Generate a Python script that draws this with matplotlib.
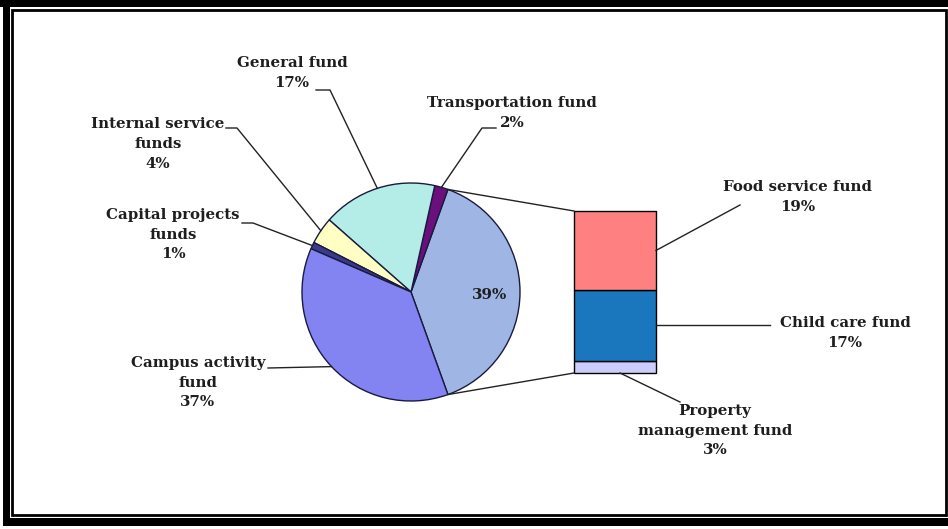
import numpy as np
import matplotlib.pyplot as plt
from matplotlib.patches import Rectangle

W, H = 948, 529

# pie part (first slice is the "other" slice broken out in the bar)
pie_labels = ["", "Transportation fund", "General fund", "Internal service\nfunds",
              "Capital projects\nfunds", "Campus activity\nfund"]
pie_values = [39, 2, 17, 4, 1, 37]
pie_colors = ["#9fb5e3", "#6b0f7d", "#b4ece8", "#ffffc4", "#3a3a8c", "#8383f2"]

# bar part, bottom to top
bar_labels = ["Property\nmanagement fund", "Child care fund", "Food service fund"]
bar_values = [3, 17, 19]
bar_colors = ["#ccccff", "#1a76bd", "#ff8080"]

plt.rcParams['font.family'] = ['DejaVu Serif']

fig = plt.figure(figsize=(W / 100, H / 100), dpi=100)
ax = fig.add_axes([0, 0, 1, 1])


def py(y):
    # pixel row (from top) -> data y
    return H - y


# frame
ax.add_patch(Rectangle((0, py(7)), W, 7, color='black', lw=0))
ax.add_patch(Rectangle((3, py(526)), 7, 526, color='black', lw=0))
ax.add_patch(Rectangle((3, py(526)), W - 3, 8, color='black', lw=0))
ax.add_patch(Rectangle((12.5, py(515)), W - 14, 505, fill=False, ec='black', lw=2))

# pie
cx, cy, r = 411, py(292), 109
total = sum(pie_values)
start = -pie_values[0] / total * 360 / 2
wedges, _ = ax.pie(pie_values, colors=pie_colors, startangle=start, counterclock=True,
                   radius=r, center=(cx, cy), frame=True,
                   wedgeprops=dict(edgecolor='#1a1a40', linewidth=1))
ax.set_xlim(0, W)
ax.set_ylim(0, H)
ax.set_aspect('equal')
ax.axis('off')


def edge(theta):
    t = np.radians(theta)
    return cx + r * np.cos(t), cy + r * np.sin(t)


font = dict(fontsize=10.8, fontweight='bold', color='#1e1e1e', ha='center', va='center',
            linespacing=1.5)

# bar of the "other" slice
bx, bw = 615, 82
scale = 162 / sum(bar_values)
bottom = py(373)
bottoms = []
for v, c in zip(bar_values, bar_colors):
    ax.bar(bx, v * scale, width=bw, bottom=bottom, color=c, edgecolor='black', linewidth=1)
    bottoms.append(bottom)
    bottom += v * scale

# connectors pie -> bar
top_pt = edge(wedges[0].theta2)
bot_pt = edge(wedges[0].theta1)
ax.plot([top_pt[0], bx - bw / 2], [top_pt[1], bottom], color='#222222', lw=1)
ax.plot([bot_pt[0], bx - bw / 2], [bot_pt[1], py(373)], color='#222222', lw=1)

ax.text(490, py(295), f"{pie_values[0]}%", **font)

# pie labels: text centre, leader path (pixel coords) ending on the slice
pie_text_pos = {1: (512, 113), 2: (292, 73), 3: (158, 144), 4: (173, 235), 5: (198, 383)}
pie_stub = {1: [(496, 128), (482, 128)], 2: [(316, 90), (330, 90)],
            3: [(226, 128), (237, 128)], 4: [(242, 223), (253, 223)], 5: [(268, 368)]}
for i in range(1, len(pie_values)):
    x, y = pie_text_pos[i]
    ax.text(x, py(y), f"{pie_labels[i]}\n{pie_values[i]}%", **font)
    w = wedges[i]
    ex, ey = edge((w.theta1 + w.theta2) / 2)
    xs = [p[0] for p in pie_stub[i]] + [ex]
    ys = [py(p[1]) for p in pie_stub[i]] + [ey]
    ax.plot(xs, ys, color='#222222', lw=1)

# bar labels
bar_text_pos = [(715, 431), (845, 333), (798, 197)]
bar_leader_end = [(680, 402), (770, None), (740, 205)]
for i, v in enumerate(bar_values):
    x, y = bar_text_pos[i]
    ax.text(x, py(y), f"{bar_labels[i]}\n{v}%", **font)
    h = v * scale
    if i == 0:
        a = (bx + 5, bottoms[i])
    else:
        a = (bx + bw / 2, bottoms[i] + h / 2)
    lx, ly = bar_leader_end[i]
    ly = a[1] if ly is None else py(ly)
    ax.plot([a[0], lx], [a[1], ly], color='#222222', lw=1)

fig.savefig("out.png", dpi=100)
